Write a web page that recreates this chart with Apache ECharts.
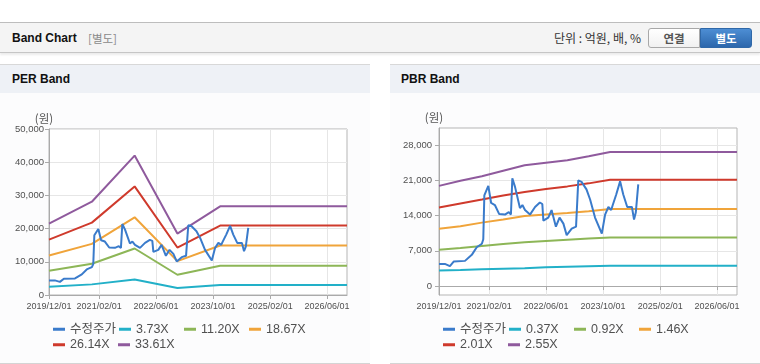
<!DOCTYPE html>
<html><head><meta charset="utf-8">
<script src="https://cdn.jsdelivr.net/npm/echarts@6/dist/echarts.min.js"></script>
<style>
html,body{margin:0;padding:0;background:#fff;width:760px;height:364px;overflow:hidden;font-family:'Liberation Sans','Noto Sans CJK KR',sans-serif;}
#hdr{position:absolute;left:0;top:22px;width:760px;height:29px;background:#f4f4f4;border-top:1px solid #bdbdbd;border-bottom:1px solid #c6c6c6;box-shadow:0 2px 2px rgba(0,0,0,0.08);}
#hdr .t{position:absolute;left:12px;top:7px;font-size:12px;font-weight:bold;color:#111;line-height:16px;}
#hdr .s{position:absolute;left:88px;top:7px;font-size:11.5px;color:#8a8a8a;line-height:16px;font-family:'Noto Sans CJK KR',sans-serif;}
#hdr .u{position:absolute;right:119px;top:7px;font-size:12px;color:#333;line-height:16px;font-family:'Noto Sans CJK KR',sans-serif;}
.btn{position:absolute;top:5px;height:18px;line-height:18px;font-size:11.5px;font-weight:bold;text-align:center;font-family:'Noto Sans CJK KR',sans-serif;}
#b1{left:648px;width:50px;background:linear-gradient(#fff,#f1f1f1);border:1px solid #a8a8a8;border-radius:3px 0 0 3px;color:#555;}
#b2{left:700px;width:50px;background:linear-gradient(#4d8ed4,#2c67ac);border:1px solid #2f68a8;border-radius:0 3px 3px 0;color:#fff;}
.panel{position:absolute;top:64px;width:370px;height:298px;background:#fcfcfd;border-top:1px solid #d8d8d8;border-bottom:1px solid #d4d4d4;}
.bar{height:28px;background:#eef1f6;font-size:12px;font-weight:bold;color:#111;line-height:28px;padding-left:12px;}
#chart{position:absolute;left:0;top:0;width:760px;height:364px;}
</style></head>
<body>
<div id="hdr"><span class="t">Band Chart</span><span class="s">[별도]</span><span class="u">단위 : 억원, 배, %</span><div class="btn" id="b1">연결</div><div class="btn" id="b2">별도</div></div>
<div class="panel" style="left:0"><div class="bar">PER Band</div></div>
<div class="panel" style="left:390px"><div class="bar" style="padding-left:11px">PBR Band</div></div>
<div id="chart"></div>
<script>
const tickLabels = ['2019/12/01','2021/02/01','2022/06/01','2023/10/01','2025/02/01','2026/06/01'];
const axisStart = '2019/12/01';
const axisEnd = '2026/11/18';
const perYTicks = [0, 10000, 20000, 30000, 40000, 50000];
const pbrYTicks = [0, 7000, 14000, 21000, 28000];

const priceDates = ['2019/12/01','2020/01/20','2020/03/03','2020/04/06','2020/07/10','2020/09/06','2020/10/18','2020/12/01','2020/12/13','2020/12/22',
'2021/01/25','2021/02/18','2021/03/22','2021/04/28','2021/06/16','2021/07/19','2021/08/06','2021/08/18','2021/09/10','2021/10/22',
'2021/11/12','2021/12/04','2022/01/16','2022/02/28','2022/04/10','2022/05/01','2022/05/10','2022/06/21','2022/07/19','2022/08/25',
'2022/09/25','2022/10/28','2022/11/25','2023/01/07','2023/02/13','2023/03/04','2023/04/01','2023/05/13','2023/06/13','2023/07/25',
'2023/09/21','2023/10/19','2023/11/16','2023/12/10','2023/12/22','2024/01/22','2024/02/24','2024/03/22','2024/04/25','2024/06/04',
'2024/06/22','2024/07/07','2024/07/28'];
const priceValues = [4400,4400,3950,4900,5000,6200,7700,8400,9300,18000,
19900,16500,16100,14300,14200,14700,14200,21400,19700,15500,
16100,15100,14200,15700,16600,16300,13000,13600,15100,11800,
13600,12400,10100,11400,11800,21000,20700,19200,17200,13600,
10400,14200,15700,15100,16000,18200,20800,18200,15700,15700,
13200,14600,20200];

const perBandDates = ['2019/12/01','2020/12/01','2021/12/01','2022/12/01','2023/12/01','2026/11/18'];
const per373  = [2500, 3200, 4700, 2100, 3000, 3000];
const per1120 = [7300, 9400, 14000, 6100, 8800, 8800];
const per1867 = [11900, 15400, 23400, 10200, 14900, 14900];
const per2614 = [16700, 21800, 32700, 14300, 20900, 20900];
const per3361 = [21500, 28100, 42000, 18500, 26700, 26700];

const pbrBandDates = ['2019/12/01','2020/06/01','2020/12/01','2021/06/01','2021/12/01','2022/06/01','2022/12/01','2023/06/01','2023/12/01','2026/11/18'];
const pbr037 = [3100, 3200, 3350, 3450, 3550, 3750, 3850, 3950, 4050, 4050];
const pbr092 = [7200, 7550, 7950, 8350, 8700, 8950, 9200, 9450, 9650, 9650];
const pbr146 = [11400, 11900, 12600, 13200, 13900, 14200, 14500, 14850, 15300, 15300];
const pbr201 = [15600, 16400, 17200, 18000, 18700, 19300, 19800, 20400, 21100, 21100];
const pbr255 = [19900, 20900, 21800, 22900, 24000, 24500, 25000, 25800, 26650, 26650];

const perNames = ['수정주가','3.73X','11.20X','18.67X','26.14X','33.61X'];
const pbrNames = ['수정주가','0.37X','0.92X','1.46X','2.01X','2.55X'];
const colors = ['#3a7bcb','#22b0c8','#8db657','#f0a43a','#cf3a2c','#8f5a9d'];

function ts(s){ const p = s.split('/').map(Number); return new Date(p[0], p[1]-1, p[2]).getTime(); }
function pad(n){ return (n<10?'0':'')+n; }
function fmtDate(v){ const d = new Date(v); return d.getFullYear()+'/'+pad(d.getMonth()+1)+'/'+pad(d.getDate()); }
function pairs(dates, vals){ return dates.map((d,i)=>[ts(d), vals[i]]); }

const FONT = "'Liberation Sans','Noto Sans CJK KR',sans-serif";
const tickTs = tickLabels.map(ts);

function xAxis(gi){
  return {
    type:'value', gridIndex:gi, min:ts(axisStart), max:ts(axisEnd),
    axisLine:{lineStyle:{color:'#aaaaaa'}},
    axisTick:{show:true, length:4, customValues:tickTs, lineStyle:{color:'#aaaaaa'}},
    axisLabel:{customValues:tickTs, formatter:(v)=>fmtDate(v), color:'#505050', fontSize:9, margin:7, fontFamily:FONT},
    splitLine:{show:true, lineStyle:{color:'#e6e6e6'}}
  };
}
function yAxisCommon(gi, margin){
  return {
    type:'value', gridIndex:gi, name:'(원)', nameLocation:'end', nameGap:5,
    nameTextStyle:{color:'#555', fontSize:11.5, align:'center', padding:[0,10,0,0], fontFamily:"'Noto Sans CJK KR',sans-serif"},
    axisLine:{show:true, lineStyle:{color:'#aaaaaa'}},
    axisTick:{show:true, length:4, lineStyle:{color:'#aaaaaa'}},
    axisLabel:{color:'#505050', fontSize:9.5, margin:margin, fontFamily:FONT},
    splitLine:{show:true, lineStyle:{color:'#e6e6e6'}}
  };
}
const yPer = Object.assign(yAxisCommon(0,5), {min:perYTicks[0], max:perYTicks[perYTicks.length-1], interval:perYTicks[1]-perYTicks[0]});
const yPbr = yAxisCommon(1,7);
yPbr.min = -1780; yPbr.max = 31400;
yPbr.axisLabel.customValues = pbrYTicks;
yPbr.axisTick.customValues = pbrYTicks;

function line(name, data, ci, gi, z){
  return {name:name, type:'line', xAxisIndex:gi, yAxisIndex:gi, data:data, symbol:'none', showSymbol:false,
    lineStyle:{width:2, color:colors[ci]}, itemStyle:{color:colors[ci]}, z:z, animation:false};
}
const perBands = [per373, per1120, per1867, per2614, per3361];
const pbrBands = [pbr037, pbr092, pbr146, pbr201, pbr255];
const series = [];
perBands.forEach((b,i)=>series.push(line(perNames[i+1], pairs(perBandDates,b), i+1, 0, 2)));
series.push(line(perNames[0], pairs(priceDates, priceValues), 0, 0, 3));
pbrBands.forEach((b,i)=>series.push(line(pbrNames[i+1], pairs(pbrBandDates,b), i+1, 1, 2)));
series.push(line(pbrNames[0], pairs(priceDates, priceValues), 0, 1, 3));

function legend(left, names){
  return {left:left, top:323, width:262, padding:0, itemGap:3, itemWidth:12, itemHeight:3, icon:'rect',
    data:names, selectedMode:false,
    formatter:(n)=>'{t|'+n+'}',
    textStyle:{rich:{t:{width:45, fontSize:12.5, lineHeight:13, color:'#505050', fontFamily:FONT}}}};
}

const chart = echarts.init(document.getElementById('chart'), null, {renderer:'canvas'});
chart.setOption({
  animation:false,
  backgroundColor:'transparent',
  textStyle:{fontFamily:FONT},
  grid:[
    {left:49, top:129, width:298, height:166, show:true, borderColor:'#b5b5b5', borderWidth:1, backgroundColor:'#fff', containLabel:false},
    {left:439, top:128, width:298, height:167, show:true, borderColor:'#b5b5b5', borderWidth:1, backgroundColor:'#fff', containLabel:false}
  ],
  xAxis:[xAxis(0), xAxis(1)],
  yAxis:[yPer, yPbr],
  legend:[legend(53, perNames), legend(443, pbrNames)],
  series:series
});
</script>
</body></html>
